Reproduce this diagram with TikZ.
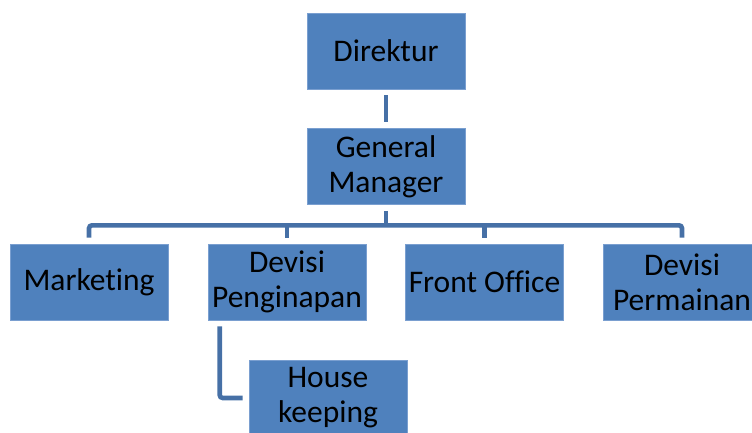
\documentclass[tikz,border=0pt]{standalone}
\usepackage{fontspec}
\setmainfont[Ligatures=NoCommon]{Carlito}
\usepackage{tikz}
\usetikzlibrary{positioning}
\definecolor{boxblue}{HTML}{4F81BD}
\definecolor{boxedge}{HTML}{7A9FD0}
\definecolor{linkblue}{HTML}{4670A6}
\tikzset{
	unit/.style={rectangle,fill=boxblue,draw=boxedge,line width=0.6pt,minimum width=158pt,minimum height=76pt,inner sep=0pt,align=center,font=\fontsize{31.5}{35}\selectfont},
	link/.style={draw=linkblue,line width=4.6pt,rounded corners=3pt}
}

\begin{document}
\begin{tikzpicture}[x=1pt,y=1pt]
	\useasboundingbox (0,0) rectangle (752,432);
	\clip (0,0) rectangle (752,432);

	\node[unit] (direktur) at (386,381) {Direktur};
	\node[unit] (gm) at (386,265.5) {General\\Manager};

	\node[unit] (marketing) at (89,150) {Marketing};
	\node[unit] (penginapan) at (287,150) {Devisi\\Penginapan};
	\node[unit] (frontoffice) at (484.5,150) {Front Office};
	\node[unit] (permainan) at (682,150) {Devisi\\Permainan};
	\node[unit] (housekeeping) at (328,34) {House\\keeping};

	\coordinate (bus) at ([yshift=-20.5pt]gm.south);

	\draw[link] ([yshift=-6pt]direktur.south) -- ([yshift=6pt]gm.north);
	\draw[link] ([yshift=-6pt]gm.south) -- (bus);
	\draw[link] ([yshift=6pt]marketing.north) |- (bus) -| ([yshift=6pt]permainan.north);
	\draw[link] (bus -| penginapan.north) -- ([yshift=6pt]penginapan.north);
	\draw[link] (bus -| frontoffice.north) -- ([yshift=6pt]frontoffice.north);
	\draw[link] ([xshift=12pt,yshift=-6pt]penginapan.south west) |- ([xshift=-6pt]housekeeping.west);

\end{tikzpicture}
\end{document}
